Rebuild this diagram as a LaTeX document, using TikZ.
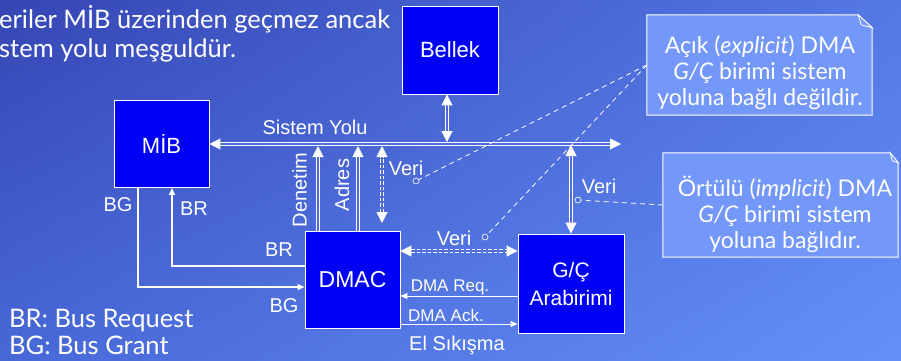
\documentclass[tikz,border=0pt]{standalone}
\usepackage{fontspec}
\setmainfont{Liberation Sans}
\newfontfamily\comicf{Lato}
\usetikzlibrary{arrows.meta,shadings}
\definecolor{bgUL}{RGB}{53,70,180}
\definecolor{bgUR}{RGB}{84,120,228}
\definecolor{bgLL}{RGB}{72,104,216}
\definecolor{bgLR}{RGB}{101,144,248}
\definecolor{boxblue}{RGB}{0,0,245}
\definecolor{notefill}{RGB}{116,152,250}
\definecolor{lineinner}{RGB}{78,108,215}
\begin{document}
\begin{tikzpicture}[x=1pt,y=-1pt,
  box/.style={draw=white, line width=0.9pt, fill=boxblue, text=white, inner sep=0pt, align=center},
  lbl/.style={text=white, inner sep=0pt, font=\fontsize{20}{22}\selectfont},
  small/.style={text=white, inner sep=0pt, font=\fontsize{17}{19}\selectfont},
  comic/.style={text=white, inner sep=0pt, font=\comicf\fontsize{25.5}{28}\selectfont},
  notetext/.style={text=white, inner sep=0pt, align=center, font=\comicf\fontsize{23}{26}\selectfont},
  dbl/.style={draw=white, line width=1pt, double=lineinner, double distance=1.8pt, >={Triangle[length=11pt,width=11pt]}},
  dbldash/.style={dbl, dash pattern=on 3.5pt off 2pt},
  sig/.style={draw=white, line width=1.3pt, >={Triangle[length=7pt,width=6pt]}},
  hs/.style={draw=white, line width=1pt, >={Triangle[length=7pt,width=6pt]}},
  pin/.style={circle, draw=white, line width=0.6pt, minimum size=6pt, inner sep=0pt},
  callline/.style={draw=white, line width=0.8pt, dash pattern=on 5pt off 4pt},
  note/.style={draw=white, line width=1pt, fill=notefill},
  notebox/.style={inner sep=0pt}
]
\useasboundingbox (0,0) rectangle (901,360);
\shade[upper left=bgUL, upper right=bgUR, lower left=bgLL, lower right=bgLR] (0,0) rectangle (901,360);

% boxes
\node[box, minimum width=96pt, minimum height=88pt, font=\fontsize{22}{24}\selectfont] (bellek) at (450,50) {Bellek};
\node[box, minimum width=95pt, minimum height=87pt, font=\fontsize{22}{24}\selectfont] (mib) at (161.5,144) {MİB};
\node[box, minimum width=95pt, minimum height=97pt, font=\fontsize{23}{25}\selectfont] (dmac) at (352.5,279.5) {DMAC};
\node[box, minimum width=106pt, minimum height=99pt, font=\fontsize{21}{28}\selectfont] (gc) at (571,283.5) {G/Ç\\Arabirimi};

% bus
\coordinate (busR) at (621,144);
\draw[dbl,<->] (mib.east) -- (busR);
\coordinate (bm) at (447,142);
\draw[dbl,<->] (bellek.south -| bm) -- (bm);
\coordinate (dn) at (318,146);
\draw[dbl,->] (dmac.north -| dn) -- (dn);
\coordinate (ad) at (358,146);
\draw[dbl,->] (dmac.north -| ad) -- (ad);
\coordinate (vt) at (382,146);
\coordinate (vb) at (382,223);
\draw[dbldash,<->] (vb) -- (vt);
\coordinate (gt) at (571,145);
\draw[dbl,<->] (gc.north) -- (gt);

% DMAC <-> G/C
\coordinate (hv) at (0,251);
\draw[dbldash,<->] (dmac.east |- hv) -- (gc.west |- hv);
\coordinate (rq) at (0,296);
\draw[hs,->] (gc.west |- rq) -- (dmac.east |- rq);
\coordinate (ak) at (0,324);
\draw[hs,->] (dmac.east |- ak) -- (gc.west |- ak);

% BR / BG
\coordinate (br) at (172,266);
\draw[sig,->] (dmac.west |- br) -- (br) -- (mib.south -| br);
\coordinate (bg) at (138,287);
\draw[sig,->] (mib.south -| bg) -- (bg) -- (dmac.west |- bg);

% labels
\node[lbl] (lbus) at (315,127) {Sistem Yolu};
\node[lbl, rotate=90] (lden) at (299.5,190) {Denetim};
\node[lbl, rotate=90] (ladr) at (342,185) {Adres};
\node[lbl] (lv1) at (406,168) {Veri};
\node[lbl] (lv2) at (599,186) {Veri};
\node[lbl] (lv3) at (454,238) {Veri};
\node[small] (lreq) at (450,287) {DMA Req.};
\node[small] (lack) at (446,315) {DMA Ack.};
\node[lbl] (lels) at (457,345) {El Sıkışma};
\node[lbl] (lbg1) at (118,205) {BG};
\node[lbl] (lbr1) at (194,209) {BR};
\node[lbl] (lbr2) at (279,250) {BR};
\node[lbl] (lbg2) at (284,306) {BG};

% pins
\node[pin] (p1) at (416,181) {};
\node[pin] (p2) at (485,237) {};
\node[pin] (p3) at (578,200) {};

% callouts
\node[notebox, minimum width=225pt, minimum height=100pt] (c1) at (759.5,65) {};
\filldraw[note] (c1.north west) -- ([xshift=-14pt]c1.north east) -- ([yshift=-13pt]c1.north east) -- (c1.south east) -- (c1.south west) -- cycle;
\filldraw[note, line width=0.8pt] ([xshift=-14pt]c1.north east) -- ([xshift=-11pt,yshift=-10pt]c1.north east) -- ([yshift=-13pt]c1.north east) -- cycle;
\node[notetext] (t1) at (760,72.5) {Açık (\textit{explicit}) DMA\\\textit{G/Ç} birimi sistem\\yoluna bağlı değildir.};

\node[notebox, minimum width=235pt, minimum height=104pt] (c2) at (780.5,205) {};
\filldraw[note] (c2.north west) -- ([xshift=-8pt]c2.north east) -- ([yshift=-10pt]c2.north east) -- (c2.south east) -- (c2.south west) -- cycle;
\filldraw[note, line width=0.8pt] ([xshift=-8pt]c2.north east) -- ([xshift=-6pt,yshift=-8pt]c2.north east) -- ([yshift=-10pt]c2.north east) -- cycle;
\node[notetext] (t2) at (785,214) {Örtülü (\textit{implicit}) DMA\\\textit{G/Ç} birimi sistem\\yoluna bağlıdır.};

\draw[callline] (c1.west) -- (p1);
\draw[callline] (c1.west) -- (p2);
\draw[callline] (c2.west) -- (p3);

% texts
\node[comic, anchor=base west] (top1) at (-1,28) {eriler MİB üzerinden geçmez ancak};
\node[comic, anchor=base west] (top2) at (-1,57) {stem yolu meşguldür.};
\node[comic, anchor=base west] (leg1) at (9,327) {BR: Bus Request};
\node[comic, anchor=base west] (leg2) at (9,354) {BG: Bus Grant};
\end{tikzpicture}
\end{document}
